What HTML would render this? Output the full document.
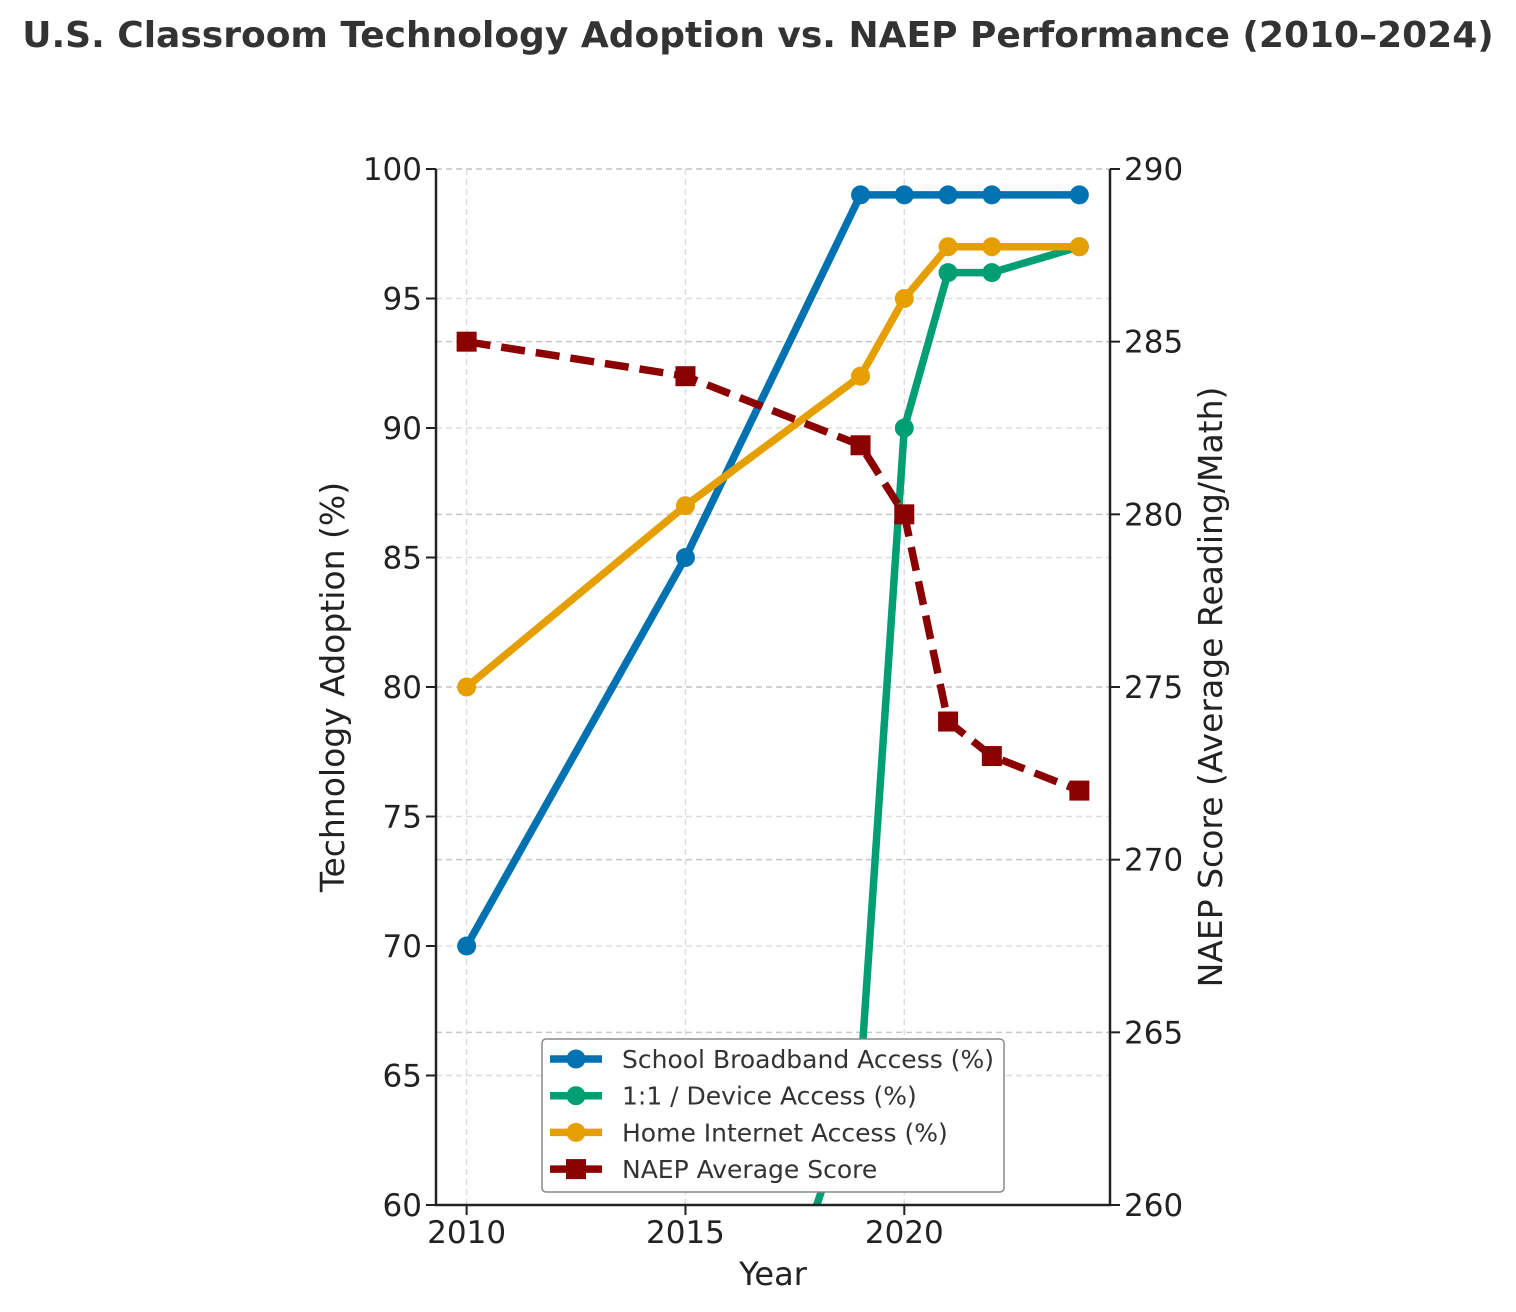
<!DOCTYPE html>
<html><head><meta charset="utf-8"><style>
html,body{margin:0;padding:0;background:#fff;overflow:hidden;width:1516px;height:1312px;}
svg{display:block;font-family:"DejaVu Sans","Liberation Sans",sans-serif;}
</style></head><body>
<svg id="chart" width="1516" height="1312" viewBox="0 0 1516 1312" xmlns="http://www.w3.org/2000/svg">
<defs><clipPath id="plotclip"><rect x="436" y="169" width="674" height="1036"/></clipPath></defs>
<text x="758" y="47" text-anchor="middle" font-size="36" font-weight="bold" fill="#333">U.S. Classroom Technology Adoption vs. NAEP Performance (2010–2024)</text>
<g id="grid"></g>
<g id="series" clip-path="url(#plotclip)"></g>
<g id="axes"></g>
<text x="773" y="1285" text-anchor="middle" font-size="32" fill="#222">Year</text>
<text transform="translate(344,687) rotate(-90)" text-anchor="middle" font-size="33" fill="#222">Technology Adoption (%)</text>
<text transform="translate(1222,687) rotate(-90)" text-anchor="middle" font-size="33" fill="#222">NAEP Score (Average Reading/Math)</text>
<g id="legend"></g>
</svg>
<script>
const years = [2010, 2015, 2019, 2020, 2021, 2022, 2024];
const broadband = [70, 85, 99, 99, 99, 99, 99];
const device = [20, 45, 65, 90, 96, 96, 97];
const homeInternet = [80, 87, 92, 95, 97, 97, 97];
const naep = [285, 284, 282, 280, 274, 273, 272];
const xTicks = [2010, 2015, 2020];
const leftTicks = [60, 65, 70, 75, 80, 85, 90, 95, 100];
const rightTicks = [260, 265, 270, 275, 280, 285, 290];

const NS = "http://www.w3.org/2000/svg";
const X0 = 436, X1 = 1110, Y0 = 1205, Y1 = 169;
const xMin = 2009.3, xMax = 2024.7;
const sx = v => X0 + (v - xMin) / (xMax - xMin) * (X1 - X0);
const syL = v => Y0 - (v - 60) / 40 * (Y0 - Y1);
const syR = v => Y0 - (v - 260) / 30 * (Y0 - Y1);
function mk(tag, attrs, parent) {
  const e = document.createElementNS(NS, tag);
  for (const k in attrs) e.setAttribute(k, attrs[k]);
  parent.appendChild(e);
  return e;
}
const grid = document.getElementById('grid');
const axes = document.getElementById('axes');
const series = document.getElementById('series');
const legend = document.getElementById('legend');

xTicks.forEach(t => {
  const g = mk('line', {x1: sx(t), x2: sx(t), y1: Y1, y2: Y0, stroke: '#ddd', 'stroke-width': 1.5, 'stroke-dasharray': '6,4'}, grid);
  
  
  const tk = mk('line', {x1: sx(t), x2: sx(t), y1: Y0, y2: Y0 + 10, stroke: '#222', 'stroke-width': 2}, axes);
  
  
  const lb = mk('text', {x: sx(t), y: Y0 + 38, 'text-anchor': 'middle', 'font-size': 31, fill: '#222'}, axes);
  lb.textContent = t;
  
  
});
leftTicks.forEach(t => {
  const g = mk('line', {x1: X0, x2: X1, y1: syL(t), y2: syL(t), stroke: '#ddd', 'stroke-width': 1.5, 'stroke-dasharray': '6,4'}, grid);
  
  
  const tk = mk('line', {x1: X0 - 10, x2: X0, y1: syL(t), y2: syL(t), stroke: '#222', 'stroke-width': 2}, axes);
  
  
  const lb = mk('text', {x: X0 - 14, y: syL(t) + 11, 'text-anchor': 'end', 'font-size': 31, fill: '#222'}, axes);
  lb.textContent = t;
  
  
});
rightTicks.forEach(t => {
  const g = mk('line', {x1: X0, x2: X1, y1: syR(t), y2: syR(t), stroke: '#c8c8c8', 'stroke-width': 1.5, 'stroke-dasharray': '6,4'}, grid);
  
  
  const tk = mk('line', {x1: X1, x2: X1 + 10, y1: syR(t), y2: syR(t), stroke: '#222', 'stroke-width': 2}, axes);
  
  
  const lb = mk('text', {x: X1 + 14, y: syR(t) + 11, 'text-anchor': 'start', 'font-size': 31, fill: '#222'}, axes);
  lb.textContent = t;
  
  
});
const sp1 = mk('path', {d: `M${X0},${Y1}V${Y0}H${X1}V${Y1}`, fill: 'none', stroke: '#222', 'stroke-width': 2.5}, axes);



function drawLine(vals, sy, color, name, dashed, square) {
  const pts = vals.map((v, i) => [sx(years[i]), sy(v)]);
  const p = mk('polyline', {points: pts.map(p => p.join(',')).join(' '), fill: 'none', stroke: color, 'stroke-width': 7.5, 'stroke-linejoin': 'round'}, series);
  if (dashed) p.setAttribute('stroke-dasharray', '24,11');
  
  
  pts.forEach(([x, y]) => {
    let m;
    if (square) m = mk('rect', {x: x - 10, y: y - 10, width: 20, height: 20, fill: color}, series);
    else m = mk('circle', {cx: x, cy: y, r: 9.5, fill: color}, series);
    
    
  });
}
drawLine(broadband, syL, '#0072b2', 'broadband', false, false);
drawLine(device, syL, '#009e73', 'device', false, false);
drawLine(homeInternet, syL, '#e69f00', 'home-internet', false, false);
drawLine(naep, syR, '#8b0000', 'naep', true, true);

const lb = mk('rect', {x: 542, y: 1039, width: 462, height: 153, rx: 4, fill: '#fff', stroke: '#888', 'stroke-width': 1.5}, legend);


const entries = [['School Broadband Access (%)', '#0072b2', false], ['1:1 / Device Access (%)', '#009e73', false], ['Home Internet Access (%)', '#e69f00', false], ['NAEP Average Score', '#8b0000', true]];
entries.forEach((e, i) => {
  const y = 1059 + i * 36.7;
  const g = mk('g', {}, legend);
  
  
  const l = mk('line', {x1: 550, x2: 602, y1: y, y2: y, stroke: e[1], 'stroke-width': 7.5}, g);
  if (e[2]) { l.setAttribute('stroke-dasharray', '22,8'); mk('rect', {x: 566, y: y - 10, width: 20, height: 20, fill: e[1]}, g); }
  else mk('circle', {cx: 576, cy: y, r: 9.5, fill: e[1]}, g);
  const t = mk('text', {x: 622, y: y + 9, 'font-size': 25, fill: '#333'}, g);
  t.textContent = e[0];
});
</script>
</body></html>
